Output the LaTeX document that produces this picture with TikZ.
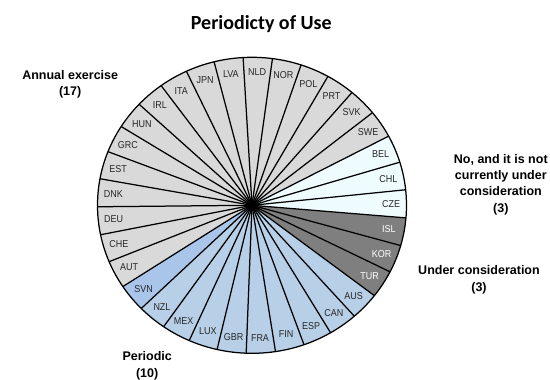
\documentclass[tikz,border=0pt]{standalone}
\usepackage{fontspec}
\setmainfont{Liberation Sans}
\newfontfamily\lblfont[FakeStretch=0.9]{Liberation Sans}
\newfontfamily\catfont{Liberation Sans}
\newfontfamily\titlefont{Carlito}
\definecolor{annc}{HTML}{D9D9D9}
\definecolor{noc}{HTML}{EEFCFF}
\definecolor{undc}{HTML}{7F7F7F}
\definecolor{perc}{HTML}{B7D0E8}
\definecolor{svnc}{HTML}{A9C6EA}
\definecolor{lbltxt}{HTML}{262626}
\tikzset{
  lbl/.style={font=\lblfont\fontsize{10}{11}\selectfont, inner sep=0pt, anchor=center},
  cat/.style={font=\catfont\bfseries\fontsize{12.5}{14}\selectfont, inner sep=0pt, anchor=base},
  ttl/.style={font=\titlefont\bfseries\fontsize{20}{22}\selectfont, inner sep=0pt, anchor=base},
  edge/.style={draw=black, line width=1.25pt}
}
\begin{document}
\begin{tikzpicture}[x=1pt,y=1pt]
\useasboundingbox (0,0) rectangle (550,380);
\def\rx{154.5}\def\ry{148}
\coordinate (C) at (252,174.7);
\def\slicelist{NLD/annc/lbltxt, NOR/annc/lbltxt, POL/annc/lbltxt, PRT/annc/lbltxt, SVK/annc/lbltxt, SWE/annc/lbltxt,
 BEL/noc/lbltxt, CHL/noc/lbltxt, CZE/noc/lbltxt,
 ISL/undc/white, KOR/undc/white, TUR/undc/white,
 AUS/perc/lbltxt, CAN/perc/lbltxt, ESP/perc/lbltxt, FIN/perc/lbltxt, FRA/perc/lbltxt, GBR/perc/lbltxt, LUX/perc/lbltxt, MEX/perc/lbltxt, NZL/perc/lbltxt, SVN/svnc/lbltxt,
 AUT/annc/lbltxt, CHE/annc/lbltxt, DEU/annc/lbltxt, DNK/annc/lbltxt, EST/annc/lbltxt, GRC/annc/lbltxt, HUN/annc/lbltxt, IRL/annc/lbltxt, ITA/annc/lbltxt, JPN/annc/lbltxt, LVA/annc/lbltxt}
\begin{scope}[shift={(C)}]
% fills
\foreach \nm/\col/\tc [count=\k from 0] in \slicelist {
  \pgfmathsetmacro\aone{93.3-\k*360/33}
  \pgfmathsetmacro\atwo{\aone-360/33}
  \fill[\col] (0,0) -- (\aone:\rx pt and \ry pt) arc[start angle=\aone, end angle=\atwo, x radius=\rx pt, y radius=\ry pt] -- cycle;
}
% boundary lines
\foreach \nm/\col/\tc [count=\k from 0] in \slicelist {
  \pgfmathsetmacro\aone{93.3-\k*360/33}
  \draw[edge] (0,0) -- (\aone:\rx pt and \ry pt);
}
\draw[edge] (0,0) ellipse[x radius=\rx pt, y radius=\ry pt];
% labels
\pgfmathsetmacro\lrx{0.9*\rx}
\pgfmathsetmacro\lry{0.9*\ry}
\foreach \nm/\col/\tc [count=\k from 0] in \slicelist {
  \pgfmathsetmacro\amid{93.3-(\k+0.5)*360/33}
  \node[lbl, text=\tc] (n\nm) at (\amid:\lrx pt and \lry pt) {\nm};
}
\end{scope}
% title
\node[ttl] (title) at (261.3,350.7) {Periodicty of Use};
% category labels
\node[cat] (ann1) at (70.2,300.7) {Annual exercise};
\node[cat] (ann2) at (70.2,284.4) {(17)};
\node[cat] (no1) at (500.8,216.7) {No, and it is not};
\node[cat] (no2) at (500.8,200.4) {currently under};
\node[cat] (no3) at (500.8,184.1) {consideration};
\node[cat] (no4) at (500.8,167.8) {(3)};
\node[cat] (und1) at (479,105) {Under consideration};
\node[cat] (und2) at (479,88.7) {(3)};
\node[cat] (per1) at (147.2,19) {Periodic};
\node[cat] (per2) at (147.2,2.7) {(10)};
\end{tikzpicture}
\end{document}
